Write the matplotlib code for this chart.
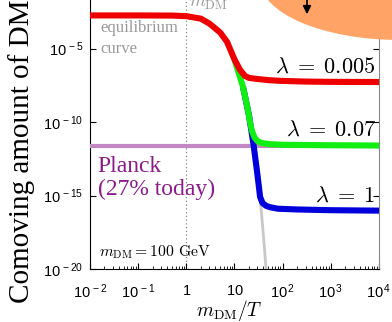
import matplotlib
matplotlib.use("Agg")
import matplotlib.pyplot as plt
from matplotlib.patches import Ellipse
from matplotlib.ticker import FixedLocator, LogLocator, NullFormatter

plt.rcParams["mathtext.fontset"] = "custom"
plt.rcParams["mathtext.rm"] = "Liberation Sans"
plt.rcParams["mathtext.it"] = "Liberation Sans:italic"

# values (log10 of comoving amount)
eq_x = [0.01, 0.1, 0.5, 1, 2, 3, 5, 7, 10, 15, 20, 25, 30, 35, 40, 45, 50]
eq_y = [-2.75, -2.75, -2.76, -2.8, -2.97, -3.3, -3.9, -4.55, -5.75, -7.6,
        -9.55, -11.6, -13.6, -15.6, -17.8, -19.9, -22.0]

red_x = [0.01, 0.1, 0.5, 1, 2, 3, 5, 7, 10, 13, 16.5, 20, 29, 50, 88, 300, 1000, 10000]
red_y = [-2.75, -2.75, -2.76, -2.8, -2.97, -3.3, -3.9, -4.55, -5.75, -6.45,
         -6.87, -7.0, -7.07, -7.15, -7.2, -7.25, -7.27, -7.28]

green_x = [10, 15, 18, 21, 23, 26, 30, 37, 50, 100, 1000, 10000]
green_y = [-5.75, -7.6, -8.8, -10.0, -10.6, -11.05, -11.3, -11.43, -11.5,
           -11.55, -11.58, -11.6]

blue_x = [15, 20, 25, 30, 34, 38, 45, 55, 80, 200, 1000, 10000]
blue_y = [-7.6, -9.55, -11.6, -13.6, -15.1, -15.5, -15.7, -15.8, -15.9,
          -15.95, -16.0, -16.03]

planck_y = -11.6
lambda_labels = [r"$\lambda\;=\;0.005$", r"$\lambda\;=\;0.07$", r"$\lambda\;=\;1$"]
lambda_label_y = [-6.67, -10.9, -15.45]

x_ticks = [1e-2, 1e-1, 1, 10, 1e2, 1e3, 1e4]
x_ticklabels = [r"$10^{\,-2}$", r"$10^{\,-1}$", r"$1$", r"$10$", r"$10^{\,2}$", r"$10^{\,3}$", r"$10^{\,4}$"]
y_ticks = [1e-20, 1e-15, 1e-10, 1e-5]
y_ticklabels = [r"$10^{\,-20}$", r"$10^{\,-15}$", r"$10^{\,-10}$", r"$10^{\,-5}$"]

serif = ["Liberation Serif", "DejaVu Serif"]

fig = plt.figure(figsize=(3.92, 3.22), dpi=100)
ax = fig.add_axes([90 / 392, 53 / 322, 289 / 392, 294 / 322])
ax.set_xscale("log")
ax.set_yscale("log")
ax.set_xlim(1e-2, 1e4)
ax.set_ylim(1e-20, 1e0)

p = lambda v: [10 ** a for a in v]

ax.axvline(1, color="#888888", ls=(0, (1, 2)), lw=0.9, zorder=1)
ax.plot(eq_x, p(eq_y), color="#c8c8c8", lw=2.0, zorder=2, solid_capstyle="butt")
ax.axhline(10 ** planck_y, color="#c387c3", lw=3.0, zorder=3)
ax.plot(blue_x, p(blue_y), color="#0000dd", lw=4.4, zorder=4, solid_capstyle="butt")
ax.plot(green_x, p(green_y), color="#11ee11", lw=4.4, zorder=5, solid_capstyle="butt")
ax.plot(red_x, p(red_y), color="#ee0000", lw=4.4, zorder=6, solid_capstyle="butt")

for lab, ly in zip(lambda_labels, lambda_label_y):
    ax.text(10 ** 3.93, 10 ** ly, lab, ha="right", va="baseline", fontsize=16,
            math_fontfamily="cm", zorder=7)

ax.text(0.0161, 10 ** -3.88, "equilibrium", color="#999999", fontsize=12,
        family=serif, va="baseline")
ax.text(0.0161, 10 ** -5.3, "curve", color="#999999", fontsize=12,
        family=serif, va="baseline")
ax.text(1.12, 10 ** -2.2, r"$m_{\rm DM}$", color="#999999", fontsize=13,
        math_fontfamily="cm", va="baseline")
ax.text(0.0145, 10 ** -13.4, "Planck", color="#8b1a8b", fontsize=17,
        family=serif, va="baseline")
ax.text(0.0145, 10 ** -14.95, "(27% today)", color="#8b1a8b", fontsize=17,
        family=serif, va="baseline")
ax.text(0.0155, 10 ** -19.12, r"$m_{\rm DM} = 100\ {\rm GeV}$", fontsize=11.3,
        math_fontfamily="cm", va="baseline")

ax.xaxis.set_major_locator(FixedLocator(x_ticks))
ax.set_xticklabels(x_ticklabels, fontsize=10.5)
ax.xaxis.set_minor_locator(LogLocator(base=10, subs=range(2, 10), numticks=20))
ax.xaxis.set_minor_formatter(NullFormatter())
ax.yaxis.set_major_locator(FixedLocator(y_ticks))
ax.set_yticklabels(y_ticklabels, fontsize=10.5)
ax.yaxis.set_minor_locator(FixedLocator([]))
ax.tick_params(which="both", direction="in", top=False, right=True)
ax.tick_params(axis="x", which="major", length=4, width=0.8, pad=10)
ax.tick_params(axis="y", which="major", length=4, width=0.8, pad=5)
ax.tick_params(which="minor", length=2.5, width=0.6)

ax.spines["top"].set_visible(False)
ax.spines["right"].set_color("#888888")

ax.set_xlabel(r"$m_{\rm DM}/T$", fontsize=14, math_fontfamily="cm")
ax.xaxis.set_label_coords((229 - 90) / 289, (269 - 298) / 294)
ax.set_ylabel("Comoving amount of DM", fontsize=21, family=serif)
ax.yaxis.set_label_coords((35 - 90) / 289, (322 - 151 - 53) / 294)

# orange blob cut off at the top right
blob = Ellipse((400 / 392, 342 / 322), 280 / 392, 120 / 322, transform=fig.transFigure,
               facecolor="#ffa366", edgecolor="none", zorder=20, clip_on=False)
ax.add_patch(blob)
ax.annotate("", xy=(307 / 392, 305 / 322), xytext=(307 / 392, 1.01),
            xycoords="figure fraction", textcoords="figure fraction",
            arrowprops=dict(arrowstyle="-|>", color="black", lw=1.2,
                            mutation_scale=12), zorder=21)

fig.savefig("out.png", dpi=100)
